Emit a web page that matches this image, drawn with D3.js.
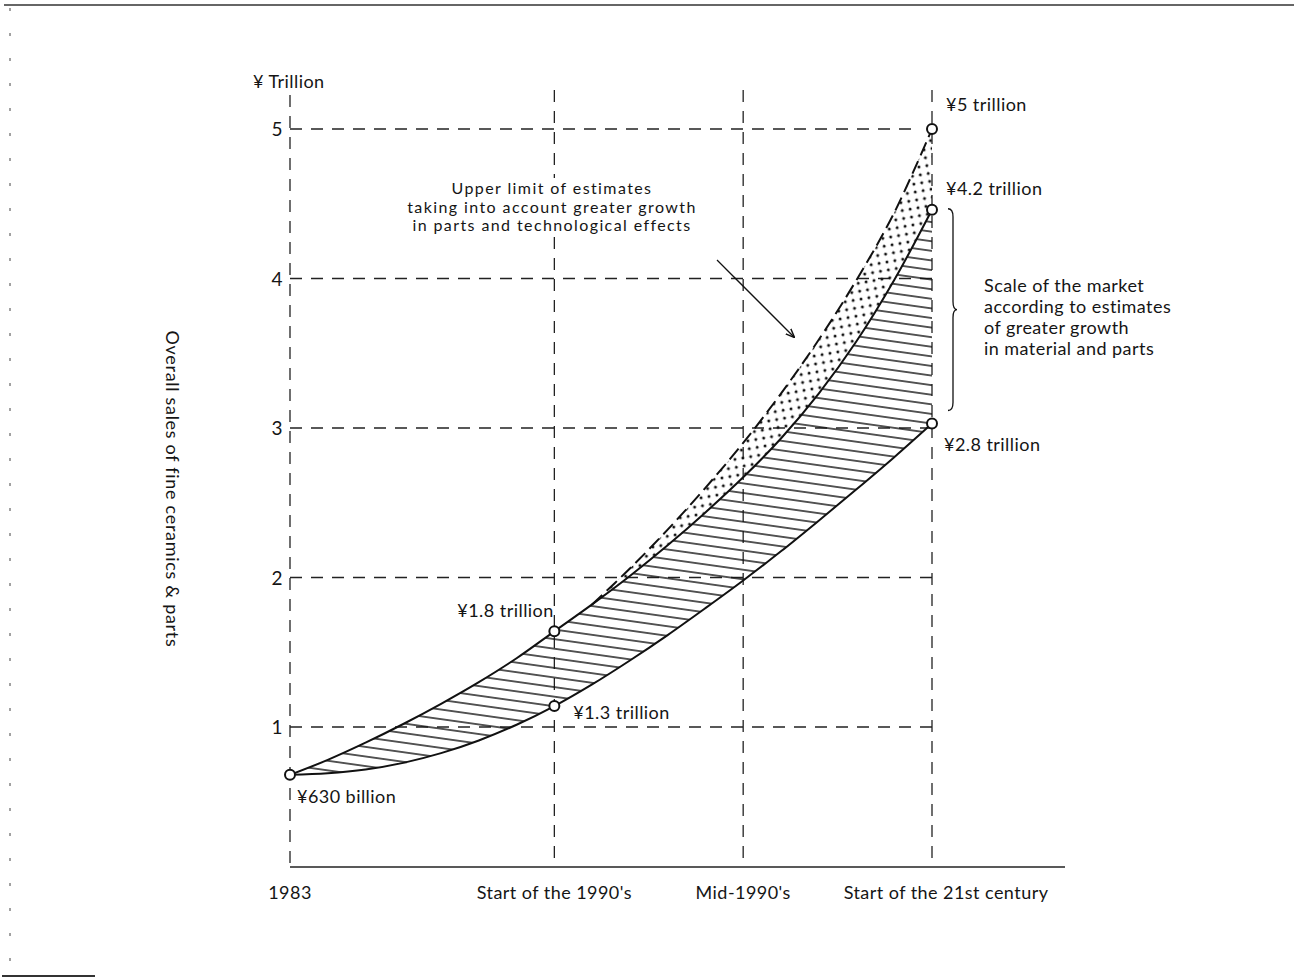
<!DOCTYPE html>
<html lang="en">
  <head>
    <meta charset="utf-8" />
    <title>Fine ceramics market estimate</title>

    <script src="https://cdn.jsdelivr.net/npm/d3@7"></script>

    <style type="text/css">
      body {
        margin: 0;
        background: #fff;
      }
      text {
        font-family: Lato, "Noto Sans", sans-serif;
        fill: #151515;
        letter-spacing: 0.45px;
      }
      .grid {
        stroke: #222;
        stroke-width: 1.3;
        stroke-dasharray: 12 9;
        fill: none;
      }
      .curve {
        fill: none;
        stroke: #111;
        stroke-width: 2;
      }
    </style>
  </head>

  <body>
    <div id="chart"></div>

    <script type="text/javascript">
      /*******************************************
       * data
       *******************************************/

      const years = [
        1983, 1984, 1985, 1986, 1987, 1988, 1989, 1990, 1991, 1992, 1993,
        1994, 1995, 1996, 1997, 1998, 1999, 2000,
      ];

      // lower estimate (ends at 2.8 trillion label)
      const lowerEstimate = [
        0.68, 0.69, 0.715, 0.76, 0.825, 0.91, 1.015, 1.14, 1.285, 1.445, 1.615,
        1.795, 1.98, 2.175, 2.38, 2.59, 2.805, 3.03,
      ];

      // estimate with greater growth in material and parts (4.2 trillion)
      const upperEstimate = [
        0.68, 0.78, 0.895, 1.02, 1.155, 1.3, 1.46, 1.64, 1.82, 2.01, 2.215,
        2.435, 2.67, 2.93, 3.23, 3.58, 3.99, 4.46,
      ];

      // upper limit, parts and technological effects (5 trillion)
      const limitYears = [1991, 1992, 1993, 1994, 1995, 1996, 1997, 1998, 1999, 2000];
      const upperLimit = [1.82, 2.06, 2.32, 2.6, 2.9, 3.23, 3.59, 3.99, 4.44, 5.0];

      // marked points
      const markerYears = [1983, 1990, 1990, 2000, 2000, 2000];
      const markerValues = [0.68, 1.64, 1.14, 5.0, 4.46, 3.03];
      const markerLabels = [
        "¥630 billion",
        "¥1.8 trillion",
        "¥1.3 trillion",
        "¥5 trillion",
        "¥4.2 trillion",
        "¥2.8 trillion",
      ];

      // axes
      const xTickYears = [1983, 1990, 1995, 2000];
      const xTickLabels = [
        "1983",
        "Start of the 1990's",
        "Mid-1990's",
        "Start of the 21st century",
      ];
      const yTicks = [1, 2, 3, 4, 5];

      /********************************************
       * create svg
       ********************************************/

      const width = 1294;
      const height = 978;
      const baseline = 867; // x axis line

      const svg = d3
        .select("div#chart")
        .append("svg")
        .attr("width", width)
        .attr("height", height);

      const defs = svg.append("defs");

      // horizontal hatching, slightly tilted
      const hatch = defs
        .append("pattern")
        .attr("id", "hatch")
        .attr("patternUnits", "userSpaceOnUse")
        .attr("width", 20)
        .attr("height", 9.5)
        .attr("patternTransform", "rotate(8)");
      hatch
        .append("line")
        .attr("x1", 0)
        .attr("x2", 20)
        .attr("y1", 4.75)
        .attr("y2", 4.75)
        .attr("stroke", "#111")
        .attr("stroke-width", 1.4);

      // dotted screen
      const dots = defs
        .append("pattern")
        .attr("id", "dots")
        .attr("patternUnits", "userSpaceOnUse")
        .attr("width", 8)
        .attr("height", 8)
        .attr("patternTransform", "rotate(-10)");
      dots
        .append("circle")
        .attr("cx", 4)
        .attr("cy", 4)
        .attr("r", 1.5)
        .attr("fill", "#111");

      defs
        .append("marker")
        .attr("id", "arrow")
        .attr("viewBox", "0 0 10 10")
        .attr("refX", 9)
        .attr("refY", 5)
        .attr("markerWidth", 9)
        .attr("markerHeight", 9)
        .attr("markerUnits", "userSpaceOnUse")
        .attr("orient", "auto")
        .append("path")
        .attr("d", "M0,1 L10,5 L0,9")
        .attr("fill", "none")
        .attr("stroke", "#111")
        .attr("stroke-width", 1.6);

      /*********************************************
       * scale
       **********************************************/

      const xScale = d3.scaleLinear().domain([1983, 2000]).range([290, 932]);
      const yScale = d3.scaleLinear().domain([1, 5]).range([727, 129]);

      /*******************************************
       * page frame (scan edges)
       *******************************************/

      svg
        .append("line")
        .attr("x1", 4)
        .attr("x2", width)
        .attr("y1", 5)
        .attr("y2", 5)
        .attr("stroke", "#333")
        .attr("stroke-width", 1.5);
      svg
        .append("line")
        .attr("x1", 10)
        .attr("x2", 10)
        .attr("y1", 8)
        .attr("y2", 975)
        .attr("stroke", "#444")
        .attr("stroke-width", 1)
        .attr("stroke-dasharray", "3 22");
      svg
        .append("line")
        .attr("x1", 2)
        .attr("x2", 95)
        .attr("y1", 976)
        .attr("y2", 976)
        .attr("stroke", "#333")
        .attr("stroke-width", 2);

      /*******************************************
       * grid
       *******************************************/

      svg
        .selectAll("line.hgrid")
        .data(yTicks)
        .enter()
        .append("line")
        .attr("class", "grid hgrid")
        .attr("x1", xScale(1983))
        .attr("x2", (d) => (d === 5 ? xScale(2000) - 12 : xScale(2000) + 3))
        .attr("y1", (d) => yScale(d))
        .attr("y2", (d) => yScale(d));

      svg
        .selectAll("line.vgrid")
        .data(xTickYears)
        .enter()
        .append("line")
        .attr("class", "grid vgrid")
        .attr("x1", (d) => xScale(d))
        .attr("x2", (d) => xScale(d))
        .attr("y1", (d) => (d === 1983 ? 95 : 90))
        .attr("y2", baseline);

      // x axis line
      svg
        .append("line")
        .attr("x1", xScale(1983))
        .attr("x2", 1065)
        .attr("y1", baseline)
        .attr("y2", baseline)
        .attr("stroke", "#222")
        .attr("stroke-width", 1.6);

      // tick labels
      svg
        .selectAll("text.ytick")
        .data(yTicks)
        .enter()
        .append("text")
        .attr("class", "ytick")
        .attr("x", xScale(1983) - 7)
        .attr("y", (d) => yScale(d) + 7)
        .attr("text-anchor", "end")
        .style("font-size", "19px")
        .text((d) => d);

      svg
        .selectAll("text.xtick")
        .data(xTickYears)
        .enter()
        .append("text")
        .attr("class", "xtick")
        .attr("x", (d, i) => xScale(d) + (i === 3 ? 14 : 0))
        .attr("y", baseline + 32)
        .attr("text-anchor", "middle")
        .style("font-size", "18px")
        .text((d, i) => xTickLabels[i]);

      svg
        .append("text")
        .attr("x", 253)
        .attr("y", 88)
        .style("font-size", "18px")
        .text("¥ Trillion");

      svg
        .append("text")
        .attr("transform", "translate(166, 489) rotate(90)")
        .attr("text-anchor", "middle")
        .style("font-size", "18px")
        .style("letter-spacing", "0.7px")
        .text("Overall sales of fine ceramics & parts");

      /*******************************************
       * areas and curves
       *******************************************/

      const band = years.map((y, i) => ({
        year: y,
        lo: lowerEstimate[i],
        hi: upperEstimate[i],
      }));

      const limitBand = limitYears.map((y, i) => ({
        year: y,
        lo: upperEstimate[years.indexOf(y)],
        hi: upperLimit[i],
      }));

      const area = d3
        .area()
        .x((d) => xScale(d.year))
        .y0((d) => yScale(d.lo))
        .y1((d) => yScale(d.hi))
        .curve(d3.curveCatmullRom);

      svg.append("path").datum(band).attr("d", area).attr("fill", "url(#hatch)");
      svg
        .append("path")
        .datum(limitBand)
        .attr("d", area)
        .attr("fill", "url(#dots)");

      const line = d3
        .line()
        .x((d) => xScale(d[0]))
        .y((d) => yScale(d[1]))
        .curve(d3.curveCatmullRom);

      svg
        .append("path")
        .datum(d3.zip(years, lowerEstimate))
        .attr("class", "curve")
        .attr("d", line);
      svg
        .append("path")
        .datum(d3.zip(years, upperEstimate))
        .attr("class", "curve")
        .attr("d", line);
      svg
        .append("path")
        .datum(d3.zip(limitYears, upperLimit))
        .attr("class", "curve")
        .attr("stroke-dasharray", "14 6")
        .attr("d", line);

      // marked points
      svg
        .selectAll("circle.marker")
        .data(markerYears)
        .enter()
        .append("circle")
        .attr("class", "marker")
        .attr("cx", (d) => xScale(d))
        .attr("cy", (d, i) => yScale(markerValues[i]))
        .attr("r", 5)
        .attr("fill", "#fff")
        .attr("stroke", "#111")
        .attr("stroke-width", 2);

      // label offsets [dx, dy] from each marker
      const labelOffsets = [
        [7, 28],
        [-97, -14],
        [19, 13],
        [14, -18],
        [14, -15],
        [12, 27],
      ];
      svg
        .selectAll("text.mlabel")
        .data(markerLabels)
        .enter()
        .append("text")
        .attr("class", "mlabel")
        .attr("x", (d, i) => xScale(markerYears[i]) + labelOffsets[i][0])
        .attr("y", (d, i) => yScale(markerValues[i]) + labelOffsets[i][1])
        .style("font-size", "18px")
        .text((d) => d);

      /*******************************************
       * annotations
       *******************************************/

      const note1 = [
        "Upper limit of estimates",
        "taking into account greater growth",
        "in parts and technological effects",
      ];
      const note1Group = svg.append("g");
      const note1Bg = note1Group.append("rect").attr("fill", "#fff");
      note1Group
        .selectAll("text.note1")
        .data(note1)
        .enter()
        .append("text")
        .attr("class", "note1")
        .attr("x", 552)
        .attr("y", (d, i) => 194 + i * 18.5)
        .attr("text-anchor", "middle")
        .style("font-size", "16px")
        .style("letter-spacing", "1.4px")
        .text((d) => d);
      // white backing so the 1990 grid line does not run through the note
      const nb = note1Group.node().getBBox();
      note1Bg
        .attr("x", nb.x - 4)
        .attr("y", nb.y)
        .attr("width", nb.width + 8)
        .attr("height", nb.height + 2);

      svg
        .append("line")
        .attr("x1", 717)
        .attr("y1", 260)
        .attr("x2", 794)
        .attr("y2", 337)
        .attr("stroke", "#111")
        .attr("stroke-width", 1.3)
        .attr("marker-end", "url(#arrow)");

      const note2 = [
        "Scale of the market",
        "according to estimates",
        "of greater growth",
        "in material and parts",
      ];
      svg
        .selectAll("text.note2")
        .data(note2)
        .enter()
        .append("text")
        .attr("class", "note2")
        .attr("x", 984)
        .attr("y", (d, i) => 292 + i * 21)
        .style("font-size", "18px")
        .text((d) => d);

      // brace from 4.2 to 2.8 trillion
      const bTop = yScale(4.46) - 1;
      const bBot = yScale(3.03) - 13;
      const bMid = (bTop + bBot) / 2;
      svg
        .append("path")
        .attr(
          "d",
          `M948,${bTop} Q953,${bTop} 953,${bTop + 8} L953,${bMid - 8} Q953,${bMid} 957,${bMid}` +
            ` Q953,${bMid} 953,${bMid + 8} L953,${bBot - 8} Q953,${bBot} 948,${bBot}`
        )
        .attr("fill", "none")
        .attr("stroke", "#111")
        .attr("stroke-width", 1.3);
    </script>
  </body>
</html>
